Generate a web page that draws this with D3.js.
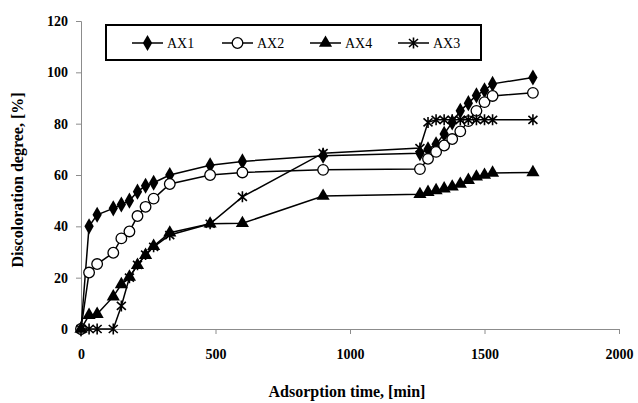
<!DOCTYPE html>
<html>
<head>
<meta charset="utf-8">
<script src="https://cdn.jsdelivr.net/npm/d3@7"></script>
<style>
  body { margin: 0; background: #fff; }
</style>
</head>
<body>
<script>
var w = 638;
var h = 403;

// adsorption time, min
var times = [0, 30, 60, 120, 150, 180, 210, 240, 270, 330, 480, 600, 900,
  1260, 1290, 1320, 1350, 1380, 1410, 1440, 1470, 1500, 1530, 1680];

// discoloration degree, %
var ax1 = [0, 40, 44.5, 47, 48.5, 50, 53.5, 55.8, 57, 60, 63.8, 65.3, 67.5,
  68.5, 70, 72, 76, 80.5, 85, 88, 91, 93, 95.5, 98];
var ax2 = [0, 22, 25.3, 29.7, 35.3, 38, 44, 47.6, 50.8, 56.5, 60, 61, 62,
  62.3, 66.3, 69, 71.5, 74, 77, 81, 85, 88.4, 90.8, 92];
var ax4 = [0, 5.4, 5.8, 12.6, 17.4, 20.3, 24.9, 28.8, 32.3, 37.5, 41, 41.2, 51.8,
  52.5, 53.3, 54, 54.7, 55.4, 56.5, 58, 59.3, 60, 60.8, 61];
var ax3 = [0, 0, 0, 0, 9, 20, 25, 29, 32, 36.6, 41, 51.5, 68.5,
  70.5, 80.5, 81.5, 81.5, 81.5, 81.5, 81.5, 81.5, 81.5, 81.5, 81.5];

var seriesNames = ["AX1", "AX2", "AX4", "AX3"];
var seriesValues = [ax1, ax2, ax4, ax3];
var markerTypes = ["diamond", "circle", "triangle", "star"];

var xTicks = [0, 500, 1000, 1500, 2000];
var yTicks = [0, 20, 40, 60, 80, 100, 120];

var serif = "Liberation Serif, DejaVu Serif";
var margin = { left: 81, right: 19, top: 21, bottom: 74 };

var x = d3.scaleLinear().domain([0, 2000]).range([margin.left, w - margin.right]);
var y = d3.scaleLinear().domain([0, 120]).range([h - margin.bottom, margin.top]);

var svg = d3.select("body").append("svg").attr("width", w).attr("height", h);

// axes
var yAxis = svg.append("g")
  .attr("transform", "translate(" + margin.left + ",0)")
  .call(d3.axisLeft(y).tickValues(yTicks).tickSize(5).tickPadding(8));
var xAxis = svg.append("g")
  .attr("transform", "translate(0," + (h - margin.bottom) + ")")
  .call(d3.axisBottom(x).tickValues(xTicks).tickFormat(d3.format("d")).tickSize(5).tickPadding(15));

[xAxis, yAxis].forEach(function (g) {
  g.attr("font-family", serif).attr("font-size", 14);
  g.selectAll("path, line").attr("stroke", "#8c8c8c").attr("stroke-width", 1);
  g.selectAll("text")
    .attr("fill", "#000")
    .attr("font-weight", "bold");
});

// axis titles
svg.append("text")
  .attr("x", 347).attr("y", 397)
  .attr("text-anchor", "middle")
  .attr("font-family", serif)
  .attr("font-size", 16).attr("font-weight", "bold")
  .text("Adsorption time, [min]");

svg.append("text")
  .attr("transform", "translate(23,180) rotate(-90)")
  .attr("text-anchor", "middle")
  .attr("font-family", serif)
  .attr("font-size", 16).attr("font-weight", "bold")
  .text("Discoloration degree, [%]");

// marker drawing
function drawMarker(g, type) {
  if (type == "diamond") {
    g.append("path").attr("d", d3.symbol().type(d3.symbolDiamond).size(75)())
      .attr("fill", "#000");
  } else if (type == "circle") {
    g.append("circle").attr("r", 5.3).attr("fill", "#fff")
      .attr("stroke", "#000").attr("stroke-width", 1.3);
  } else if (type == "triangle") {
    g.append("path").attr("d", d3.symbol().type(d3.symbolTriangle).size(75)())
      .attr("fill", "#000");
  } else {
    g.append("path")
      .attr("d", "M-4.5,-4L4.5,4M-4.5,4L4.5,-4M0,-5.5L0,5.5")
      .attr("stroke", "#000").attr("stroke-width", 1.6).attr("fill", "none");
  }
}

var line = d3.line()
  .x(function (d) { return x(d[0]); })
  .y(function (d) { return y(d[1]); });

seriesValues.forEach(function (vals, i) {
  var pts = times.map(function (t, j) { return [t, vals[j]]; });
  svg.append("path")
    .datum(pts)
    .attr("d", line)
    .attr("fill", "none")
    .attr("stroke", "#000")
    .attr("stroke-width", 1.5);
  svg.selectAll(".m" + i)
    .data(pts)
    .enter()
    .append("g")
    .attr("class", "m" + i)
    .attr("transform", function (d) { return "translate(" + x(d[0]) + "," + y(d[1]) + ")"; })
    .each(function () { drawMarker(d3.select(this), markerTypes[i]); });
});

// legend
var legend = svg.append("g");
legend.append("rect")
  .attr("x", 106).attr("y", 25).attr("width", 375).attr("height", 35)
  .attr("fill", "#fff").attr("stroke", "#000").attr("stroke-width", 2);

var legendX = [132, 222, 310, 398];
seriesNames.forEach(function (name, i) {
  var lg = legend.append("g").attr("transform", "translate(" + legendX[i] + ",43)");
  lg.append("line").attr("x1", 0).attr("x2", 31).attr("y1", 0).attr("y2", 0)
    .attr("stroke", "#000").attr("stroke-width", 1.5);
  var mg = lg.append("g").attr("transform", "translate(15.5,0)");
  drawMarker(mg, markerTypes[i]);
  lg.append("text").attr("x", 35).attr("y", 5)
    .attr("font-family", serif)
    .attr("font-size", 14)
    .text(name);
});
</script>
</body>
</html>
